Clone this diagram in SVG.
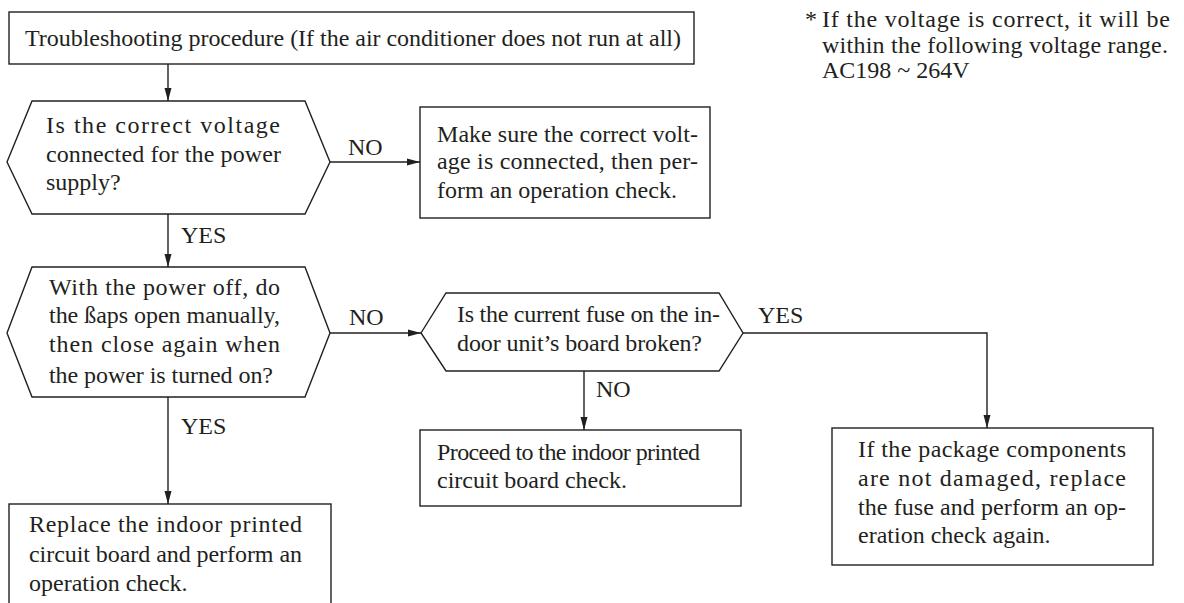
<svg xmlns="http://www.w3.org/2000/svg" width="1184" height="603" viewBox="0 0 1184 603">
<style>
.box{fill:#fff;stroke:#231f20;stroke-width:1.4}
.ln{fill:none;stroke:#231f20;stroke-width:1.4}
text{font-family:"Liberation Serif","Times New Roman",serif;font-size:24px;fill:#231f20}
</style>
<defs>
<marker id="ah" markerWidth="13" markerHeight="8" refX="13" refY="4" orient="auto" markerUnits="userSpaceOnUse">
<path d="M0,0.5 L13,4 L0,7.5 Z" fill="#231f20"/>
</marker>
</defs>
<rect width="1184" height="603" fill="#fff"/>
<g id="connectors">
<line class="ln" x1="168" y1="64" x2="168" y2="101" marker-end="url(#ah)"/>
<line class="ln" x1="330" y1="162" x2="420" y2="162" marker-end="url(#ah)"/>
<line class="ln" x1="168" y1="214" x2="168" y2="267" marker-end="url(#ah)"/>
<line class="ln" x1="330" y1="333" x2="421" y2="333" marker-end="url(#ah)"/>
<line class="ln" x1="168" y1="397" x2="168" y2="504" marker-end="url(#ah)"/>
<line class="ln" x1="584" y1="371" x2="584" y2="430" marker-end="url(#ah)"/>
<polyline class="ln" points="743,333 987,333 987,428" marker-end="url(#ah)"/>
<text x="348" y="155">NO</text>
<text x="181" y="243">YES</text>
<text x="349" y="325">NO</text>
<text x="181" y="434">YES</text>
<text x="758" y="323">YES</text>
<text x="596" y="397">NO</text>
</g>
<g id="start">
<rect class="box" x="9" y="12" width="685" height="52"/>
<text x="25" y="46" textLength="656" lengthAdjust="spacing">Troubleshooting procedure (If the air conditioner does not run at all)</text>
</g>
<g id="q-voltage">
<polygon class="box" points="7,162 32,101 305,101 330,162 305,214 32,214"/>
<text x="46" y="133" textLength="234" lengthAdjust="spacing">Is the correct voltage</text>
<text x="46" y="162" textLength="235" lengthAdjust="spacing">connected for the power</text>
<text x="46" y="190">supply?</text>
</g>
<g id="fix-voltage">
<rect class="box" x="420" y="107" width="290" height="111"/>
<text x="437" y="142" textLength="261" lengthAdjust="spacing">Make sure the correct volt-</text>
<text x="437" y="169" textLength="261" lengthAdjust="spacing">age is connected, then per-</text>
<text x="437" y="198">form an operation check.</text>
</g>
<g id="q-flaps">
<polygon class="box" points="7,333 32,267 305,267 330,333 305,397 32,397"/>
<text x="49" y="295" textLength="231" lengthAdjust="spacing">With the power off, do</text>
<text x="49" y="323" textLength="231" lengthAdjust="spacing">the ßaps open manually,</text>
<text x="49" y="352" textLength="231" lengthAdjust="spacing">then close again when</text>
<text x="49" y="383" textLength="224" lengthAdjust="spacing">the power is turned on?</text>
</g>
<g id="q-fuse">
<polygon class="box" points="421,333 446,293 719,293 743,333 719,371 446,371"/>
<text x="457" y="322" textLength="263" lengthAdjust="spacing">Is the current fuse on the in-</text>
<text x="457" y="351" textLength="245" lengthAdjust="spacing">door unit’s board broken?</text>
</g>
<g id="pcb-check">
<rect class="box" x="420" y="430" width="321" height="76"/>
<text x="437" y="460" textLength="263" lengthAdjust="spacing">Proceed to the indoor printed</text>
<text x="437" y="488">circuit board check.</text>
</g>
<g id="replace-fuse">
<rect class="box" x="832" y="428" width="321" height="137"/>
<text x="858" y="457" textLength="268" lengthAdjust="spacing">If the package components</text>
<text x="858" y="486" textLength="268" lengthAdjust="spacing">are not damaged, replace</text>
<text x="858" y="515" textLength="268" lengthAdjust="spacing">the fuse and perform an op-</text>
<text x="858" y="543">eration check again.</text>
</g>
<g id="replace-pcb">
<rect class="box" x="9" y="504" width="322" height="120"/>
<text x="29" y="532" textLength="273" lengthAdjust="spacing">Replace the indoor printed</text>
<text x="29" y="562" textLength="273" lengthAdjust="spacing">circuit board and perform an</text>
<text x="29" y="591">operation check.</text>
</g>
<g id="note">
<text x="805" y="27">*</text>
<text x="822" y="27" textLength="348" lengthAdjust="spacing">If the voltage is correct, it will be</text>
<text x="822" y="53" textLength="346" lengthAdjust="spacing">within the following voltage range.</text>
<text x="822" y="78">AC198 ~ 264V</text>
</g>
</svg>
